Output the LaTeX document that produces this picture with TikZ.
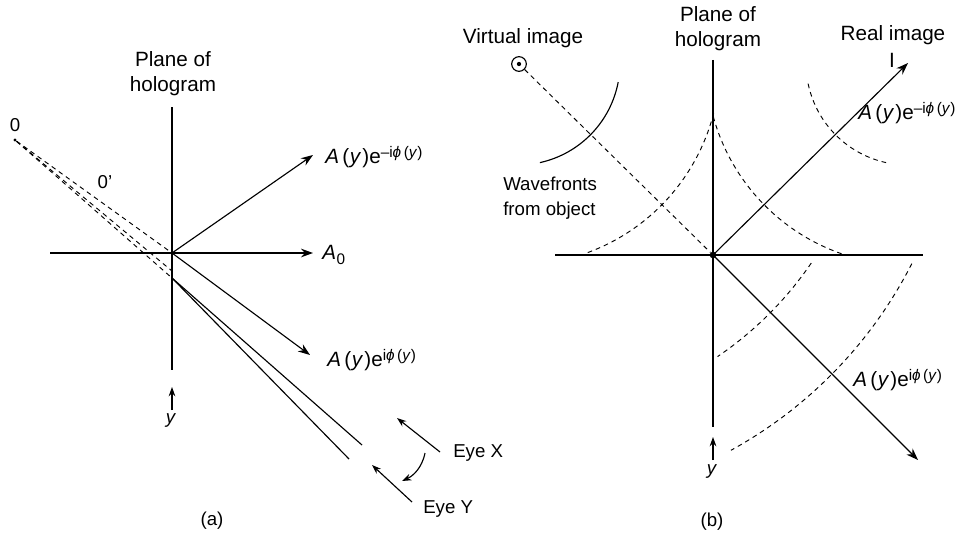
\documentclass[tikz,border=0pt]{standalone}
\usepackage{fontspec}
\setmainfont{Liberation Sans}
\usetikzlibrary{arrows.meta,calc}
\newcommand{\phs}{\textit{ϕ}}
\newcommand{\sups}[1]{\raisebox{5pt}{\fontsize{11.5}{11.5}\selectfont #1}}
\newcommand{\amp}{\textit{A}\kern2.5pt(\kern0.5pt\textit{y}\kern0.8pt)e}
\begin{document}
\begin{tikzpicture}[x=0.75pt,y=-0.75pt,
  every node/.style={font=\fontsize{14}{18.75}\selectfont, inner sep=0pt},
  ttl/.style={font=\fontsize{15.5}{18.75}\selectfont, align=center},
  mlbl/.style={font=\fontsize{15.5}{18.75}\selectfont, anchor=west},
  axis/.style={line width=0.85pt},
  arr/.style={line width=0.85pt,-{Stealth[length=9pt,width=6.5pt]}},
  smallarr/.style={line width=0.85pt,-{Stealth[length=7pt,width=5pt]}},
  dsh/.style={line width=0.7pt, dash pattern=on 3.5pt off 3pt}]
\useasboundingbox (0,0) rectangle (960,535);

% ---------------- (a) ----------------
\coordinate (Oa) at (172,253);
\coordinate (Pa) at (172,278);
\coordinate (Pc) at (172,271);
\coordinate (VaT) at (172,107);
\coordinate (VaB) at (172,370);
\coordinate (HaL) at (50,253);
\coordinate (HaR) at (313,253);
\coordinate (UpA) at (313,155);
\coordinate (DnA) at (310,355);
\coordinate (Ex1) at (362,445);
\coordinate (Ex2) at (349,459);
\coordinate (ya1) at (172,410);
\coordinate (ya2) at (172,387);
\node[circle, fill, minimum size=2.5pt] (Pt0) at (15,140) {};

\draw[axis] (VaT) -- (VaB);
\draw[arr] (HaL) -- (HaR);
\draw[arr] (Oa) -- (UpA);
\draw[arr] (Oa) -- (DnA);
\draw[axis] (Pa) -- (Ex1);
\draw[axis] (Pa) -- (Ex2);
\draw[dsh] (Pt0) -- (Oa);
\draw[dsh] (Pt0) -- (Pa);
\draw[dsh] (Pt0) -- (Pc);
\draw[smallarr] (ya1) -- (ya2);

\node[ttl] (pla) at (173,73.5) {Plane of\\hologram};
\node (l0) at (15,125) {0};
\node (l0p) at (105,182) {0’};
\node[mlbl] (lup) at (325,157) {\amp\sups{–i\phs\,(\textit{y})}};
\node[mlbl] (lA0) at (322,255) {\textit{A}\kern0.5pt\raisebox{-3.5pt}{\fontsize{11.5}{11.5}\selectfont 0}};
\node[mlbl] (ldn) at (327,360) {\amp\sups{i\phs\,(\textit{y})}};
\node (lya) at (171,421) {\textit{y}};

% eyes
\coordinate (EX1) at (440,452);
\coordinate (EX2) at (397,418);
\coordinate (EY1) at (412,502);
\coordinate (EY2) at (372,465);
\coordinate (EC1) at (425,453);
\coordinate (EC2) at (402,481);
\draw[smallarr] (EX1) -- (EX2);
\draw[smallarr] (EY1) -- (EY2);
\draw[smallarr] (EC1) .. controls (422,468) and (413,476) .. (EC2);
\node[anchor=west] (lex) at (453,453) {Eye X};
\node[anchor=west] (ley) at (423,509) {Eye Y};
\node (capa) at (212,521) {(a)};

% ---------------- (b) ----------------
\coordinate (VbT) at (713,60);
\coordinate (VbB) at (713,427);
\coordinate (HbL) at (555,255);
\coordinate (HbR) at (923,255);
\coordinate (RI) at (908,63);
\coordinate (DnB) at (918,460);
\coordinate (yb1) at (713,460);
\coordinate (yb2) at (713,437);

\draw[axis] (VbT) -- (VbB);
\draw[axis] (HbL) -- (HbR);
\node[circle, fill, minimum size=5pt] (Ob) at (713,255) {};
\node[circle, draw, line width=0.85pt, minimum size=11pt] (VI) at (519,64) {};
\node[circle, fill, minimum size=3.2pt] (VIdot) at (519,64) {};
\draw[arr] (Ob.center) -- (RI);
\draw[arr] (Ob.center) -- (DnB);
\draw[dsh] (VI) -- (Ob);
\draw[smallarr] (yb1) -- (yb2);

% wavefronts
\draw[line width=0.85pt] plot[domain=10.8:77.6, samples=40, smooth] ({518+102*cos(\x)}, {63+102*sin(\x)});
\draw[dsh] plot[domain=14.4:70.8, samples=50, smooth] ({518+202*cos(\x)}, {63+202*sin(\x)});
\draw[dsh] plot[domain=34.3:55.8, samples=50, smooth] ({518+355*cos(\x)}, {63+355*sin(\x)});
\draw[dsh] plot[domain=27:61.2, samples=60, smooth] ({518+442*cos(\x)}, {63+442*sin(\x)});
\draw[dsh] plot[domain=109.2:165.6, samples=50, smooth] ({908+202*cos(\x)}, {63+202*sin(\x)});
\draw[dsh] plot[domain=102.4:169.2, samples=40, smooth] ({908+102*cos(\x)}, {63+102*sin(\x)});

\node[ttl] (lvi) at (523,38) {Virtual image};
\node[ttl] (plb) at (718,29) {Plane of\\hologram};
\node[ttl] (lri) at (893,35) {Real image};
\node[ttl] (lI) at (892,60) {I};
\node[align=left, anchor=west] (lwf) at (503,198) {Wavefronts\\from object};
\node[mlbl] (lupb) at (858,113) {\amp\sups{–i\phs\,(\textit{y})}};
\node[mlbl] (ldnb) at (853,380) {\amp\sups{i\phs\,(\textit{y})}};
\node (lyb) at (712,472) {\textit{y}};
\node (capb) at (712,522) {(b)};
\end{tikzpicture}
\end{document}
